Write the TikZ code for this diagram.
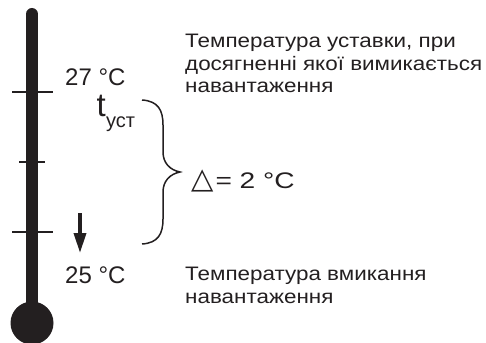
\documentclass[tikz,border=0pt]{standalone}
\usepackage{fontspec}
\setmainfont{Liberation Sans}
\newfontfamily\widefont[FakeStretch=1.15]{Liberation Sans}
\newfontfamily\widerfont[FakeStretch=1.25]{Liberation Sans}
\newfontfamily\symfont{DejaVu Sans}
\usetikzlibrary{arrows.meta}
\definecolor{ink}{HTML}{231F20}
\tikzset{
  lbl/.style={inner sep=0pt, text=ink, font=\fontsize{24}{28}\selectfont},
  desc/.style={inner sep=0pt, text=ink, align=left, font=\widefont\fontsize{19.5}{22.5}\selectfont},
  tick/.style={draw=ink, line width=2.5pt},
}
\begin{document}
\begin{tikzpicture}[x=1pt,y=-1pt]
\useasboundingbox (0,0) rectangle (486,342);
% thermometer
\draw[ink, line width=12pt, line cap=round] (32,14) -- (32,320);
\fill[ink] (32,323) circle (21.5);
\draw[tick] (12,92) -- (53,92);
\draw[tick] (19,162) -- (45,162);
\draw[tick] (12,232) -- (53,232);
% labels
\node[lbl, anchor=base west] (t27) at (65,85) {27 °C};
\node[lbl, anchor=base west] (t25) at (65,283) {25 °C};
\node[inner sep=0pt, text=ink, anchor=base west, text height=22pt, text depth=0pt, font=\fontsize{33}{34}\selectfont] (tu) at (96.5,116) {t};
\node[inner sep=0pt, text=ink, anchor=base west, font=\fontsize{20}{22}\selectfont] (tus) at (106,127) {уст};
% arrow
\coordinate (a1) at (80,213);
\coordinate (a2) at (80,253);
\draw[ink, line width=3.5pt, -{Triangle[length=20pt,width=12pt]}] (a1) -- (a2);
% brace
\coordinate (b1) at (142,100);
\coordinate (bt) at (180,172);
\coordinate (b2) at (142,244);
\draw[ink, line width=1.5pt] (b1) .. controls (158,101) and (163,110) .. (163,125)
  -- (163,152) .. controls (163,163) and (170,170) .. (bt)
  .. controls (170,174) and (163,181) .. (163,192)
  -- (163,219) .. controls (163,234) and (158,243) .. (b2);
% delta
\node[inner sep=0pt, text=ink, anchor=base west, font=\widerfont\fontsize{22.5}{26}\selectfont] (dl) at (191,188) {{\symfont\fontsize{29}{30}\selectfont △}\hspace{2pt}= 2 °C};
% descriptions
\node[desc, anchor=north west] (d1) at (185,34) {Температура уставки, при\\досягненні якої вимикається\\навантаження};
\node[desc, anchor=north west] (d2) at (185,267) {Температура вмикання\\навантаження};
\end{tikzpicture}
\end{document}
